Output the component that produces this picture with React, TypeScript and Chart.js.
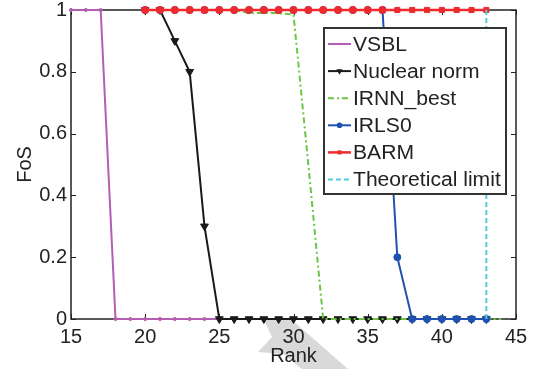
import React, { useEffect, useRef } from "react";
import { Chart, registerables } from "chart.js";

Chart.register(...registerables);

const vsblRanks = [15, 16, 17, 18, 19, 20, 21, 22, 23, 24, 25, 26, 27, 28, 29, 30, 31, 32, 33, 34, 35, 36, 37, 38, 39, 40, 41, 42, 43];
const vsblFoS = [1, 1, 1, 0, 0, 0, 0, 0, 0, 0, 0, 0, 0, 0, 0, 0, 0, 0, 0, 0, 0, 0, 0, 0, 0, 0, 0, 0, 0];

const nuclearRanks = [20, 21, 22, 23, 24, 25, 26, 27, 28, 29, 30, 31, 32, 33, 34, 35, 36, 37, 38, 39, 40, 41, 42, 43];
const nuclearFoS = [1, 1, 0.9, 0.8, 0.3, 0, 0, 0, 0, 0, 0, 0, 0, 0, 0, 0, 0, 0, 0, 0, 0, 0, 0, 0];

const irnnRanks = [20, 21, 22, 23, 24, 25, 26, 27, 28, 29, 30, 31, 32, 33, 34, 35, 36, 37, 38, 39, 40, 41, 42, 43, 44];
const irnnFoS = [1, 1, 1, 1, 1, 1, 1, 0.99, 0.99, 0.99, 0.985, 0.5, 0, 0, 0, 0, 0, 0, 0, 0, 0, 0, 0, 0, 0];

const irlsRanks = [20, 21, 22, 23, 24, 25, 26, 27, 28, 29, 30, 31, 32, 33, 34, 35, 36, 37, 38, 39, 40, 41, 42, 43];
const irlsFoS = [1, 1, 1, 1, 1, 1, 1, 1, 1, 1, 1, 1, 1, 1, 1, 1, 1, 0.2, 0, 0, 0, 0, 0, 0];

const barmRanks = [20, 21, 22, 23, 24, 25, 26, 27, 28, 29, 30, 31, 32, 33, 34, 35, 36, 37, 38, 39, 40, 41, 42, 43];
const barmFoS = [1, 1, 1, 1, 1, 1, 1, 1, 1, 1, 1, 1, 1, 1, 1, 1, 1, 1, 1, 1, 1, 1, 1, 1];

const limitRanks = [43, 43];
const limitFoS = [0, 1];

const xTicks = [15, 20, 25, 30, 35, 40, 45];
const yTicks = [0, 0.2, 0.4, 0.6, 0.8, 1];

const seriesNames = ["VSBL", "Nuclear norm", "IRNN_best", "IRLS0", "BARM", "Theoretical limit"];

const pts = (xs: number[], ys: number[]) => xs.map((x, i) => ({ x, y: ys[i] }));

const FONT = "'Liberation Sans', Arial, Helvetica, sans-serif";
const AXIS = "#222";

const barmStyles = barmRanks.map((r) => {
  const i = irlsRanks.indexOf(r);
  return i >= 0 && irlsFoS[i] === 1 ? "circle" : "rect";
});

function drawMarker(ctx: CanvasRenderingContext2D, style: string, x: number, y: number, r: number, color: string) {
  ctx.fillStyle = color;
  ctx.beginPath();
  if (style === "circle") {
    ctx.arc(x, y, r, 0, Math.PI * 2);
  } else if (style === "rect") {
    const s = r * Math.SQRT1_2;
    ctx.rect(x - s, y - s, 2 * s, 2 * s);
  } else if (style === "triangleDown") {
    ctx.moveTo(x - r * 0.87, y - r * 0.5);
    ctx.lineTo(x + r * 0.87, y - r * 0.5);
    ctx.lineTo(x, y + r);
    ctx.closePath();
  }
  ctx.fill();
}

const overlay = {
  id: "overlay",
  beforeDraw(chart: any) {
    const ctx = chart.ctx;
    ctx.save();
    ctx.fillStyle = "#d9d9d9";
    ctx.beginPath();
    ctx.moveTo(264, 320);
    ctx.lineTo(292, 320);
    ctx.lineTo(348, 369);
    ctx.lineTo(302, 369);
    ctx.lineTo(283, 354);
    ctx.lineTo(258, 352);
    ctx.lineTo(272, 337);
    ctx.closePath();
    ctx.fill();
    ctx.restore();
  },
  beforeDatasetsDraw(chart: any) {
    const ctx = chart.ctx;
    const a = chart.chartArea;
    const xs = chart.scales.x;
    const ys = chart.scales.y;
    ctx.save();
    ctx.strokeStyle = AXIS;
    ctx.lineWidth = 1.5;
    ctx.strokeRect(a.left, a.top, a.right - a.left, a.bottom - a.top);
    ctx.lineWidth = 1;
    const L = 5;
    ctx.beginPath();
    xTicks.forEach((t) => {
      const px = Math.round(xs.getPixelForValue(t)) + 0.5;
      ctx.moveTo(px, a.bottom);
      ctx.lineTo(px, a.bottom - L);
      ctx.moveTo(px, a.top);
      ctx.lineTo(px, a.top + L);
    });
    yTicks.forEach((t) => {
      const py = Math.round(ys.getPixelForValue(t)) + 0.5;
      ctx.moveTo(a.left, py);
      ctx.lineTo(a.left + L, py);
      ctx.moveTo(a.right, py);
      ctx.lineTo(a.right - L, py);
    });
    ctx.stroke();
    ctx.restore();
  },
  afterDraw(chart: any) {
    const ctx = chart.ctx;
    const a = chart.chartArea;
    ctx.save();
    ctx.fillStyle = AXIS;
    ctx.font = `20px ${FONT}`;
    ctx.textAlign = "center";
    ctx.textBaseline = "alphabetic";
    ctx.fillText("Rank", (a.left + a.right) / 2, 362);
    ctx.save();
    ctx.translate(31, (a.top + a.bottom) / 2);
    ctx.rotate(-Math.PI / 2);
    ctx.fillText("FoS", 0, 0);
    ctx.restore();

    // legend box
    const bx = 324, by = 28, bw = 182, bh = 166;
    ctx.fillStyle = "#fff";
    ctx.fillRect(bx, by, bw, bh);
    ctx.strokeStyle = "#333";
    ctx.lineWidth = 2;
    ctx.strokeRect(bx, by, bw, bh);
    const rowH = 27.1;
    chart.data.datasets.forEach((ds: any, i: number) => {
      const cy = 44 + i * rowH;
      ctx.save();
      ctx.strokeStyle = ds.borderColor;
      ctx.lineWidth = ds.borderWidth;
      ctx.setLineDash(ds.borderDash || []);
      ctx.beginPath();
      ctx.moveTo(328, cy);
      ctx.lineTo(351, cy);
      ctx.stroke();
      ctx.setLineDash([]);
      const r = ds.pointRadius;
      if (r > 0) {
        let style = Array.isArray(ds.pointStyle) ? ds.pointStyle[ds.pointStyle.length - 1] : ds.pointStyle;
        if (style === "triangle" && ds.pointRotation === 180) style = "triangleDown";
        drawMarker(ctx, style, 339.5, cy, r * 0.8, ds.pointBackgroundColor);
      }
      ctx.restore();
      ctx.save();
      ctx.fillStyle = AXIS;
      ctx.font = `20px ${FONT}`;
      ctx.textAlign = "left";
      ctx.textBaseline = "middle";
      ctx.translate(353, cy + 1);
      ctx.scale(1.055, 1);
      ctx.fillText(seriesNames[i], 0, 0);
      ctx.restore();
    });
    ctx.restore();
  },
};

export default function App() {
  const ref = useRef<HTMLCanvasElement>(null);
  useEffect(() => {
    document.body.style.margin = "0";
    const common = { fill: false, tension: 0, clip: false as any, pointBorderWidth: 1 };
    const chart = new Chart(ref.current!, {
      type: "line",
      data: {
        datasets: [
          {
            ...common,
            label: seriesNames[0],
            data: pts(vsblRanks, vsblFoS),
            borderColor: "#b35db3",
            borderWidth: 2,
            pointStyle: "circle",
            pointRadius: 1.6,
            pointBackgroundColor: "#b35db3",
            pointBorderColor: "#b35db3",
            order: 6,
          },
          {
            ...common,
            label: seriesNames[1],
            data: pts(nuclearRanks, nuclearFoS),
            borderColor: "#1a1a1a",
            borderWidth: 2,
            pointStyle: "triangle",
            pointRotation: 180,
            pointRadius: 4.5,
            pointBackgroundColor: "#1a1a1a",
            pointBorderColor: "#1a1a1a",
            order: 5,
          },
          {
            ...common,
            label: seriesNames[2],
            data: pts(irnnRanks, irnnFoS),
            borderColor: "#6cc644",
            borderWidth: 2,
            borderDash: [6, 3, 2, 3],
            pointRadius: 0,
            order: 4,
          },
          {
            ...common,
            label: seriesNames[3],
            data: pts(irlsRanks, irlsFoS),
            borderColor: "#1f52b0",
            borderWidth: 2,
            pointStyle: "circle",
            pointRadius: 3.5,
            pointBackgroundColor: "#1f52b0",
            pointBorderColor: "#1f52b0",
            order: 3,
          },
          {
            ...common,
            label: seriesNames[4],
            data: pts(barmRanks, barmFoS),
            borderColor: "#ee2a2e",
            borderWidth: 2.5,
            pointStyle: barmStyles as any,
            pointRadius: 3.6,
            pointBackgroundColor: "#ee2a2e",
            pointBorderColor: "#ee2a2e",
            order: 2,
          },
          {
            ...common,
            label: seriesNames[5],
            data: pts(limitRanks, limitFoS),
            borderColor: "#55cbe0",
            borderWidth: 2,
            borderDash: [5, 3],
            pointRadius: 0,
            order: 1,
          },
        ],
      },
      options: {
        responsive: false,
        animation: false,
        devicePixelRatio: 1,
        layout: { padding: { top: 10, right: 22, left: 0, bottom: 0 } },
        plugins: { legend: { display: false }, tooltip: { enabled: false } },
        scales: {
          x: {
            type: "linear",
            min: 15,
            max: 45,
            afterBuildTicks: (s: any) => {
              s.ticks = xTicks.map((v) => ({ value: v }));
            },
            afterFit: (s: any) => {
              s.height = 50;
              s.paddingLeft = 0;
              s.paddingRight = 0;
            },
            ticks: {
              font: { family: FONT, size: 20 },
              color: AXIS,
              padding: 6,
              maxRotation: 0,
              autoSkip: false,
            },
            grid: { display: false, drawTicks: false },
            border: { display: false },
          },
          y: {
            type: "linear",
            min: 0,
            max: 1,
            afterBuildTicks: (s: any) => {
              s.ticks = yTicks.map((v) => ({ value: v }));
            },
            afterFit: (s: any) => {
              s.width = 71;
              s.paddingTop = 0;
              s.paddingBottom = 0;
            },
            ticks: {
              font: { family: FONT, size: 20 },
              color: AXIS,
              padding: 4,
              callback: (v: any) => String(+Number(v).toFixed(1)),
            },
            grid: { display: false, drawTicks: false },
            border: { display: false },
          },
        },
      },
      plugins: [overlay],
    });
    return () => chart.destroy();
  }, []);
  return (
    <div style={{ position: "fixed", left: 0, top: 0 }}>
      <canvas ref={ref} width={538} height={369} style={{ display: "block", width: 538, height: 369 }} />
    </div>
  );
}
